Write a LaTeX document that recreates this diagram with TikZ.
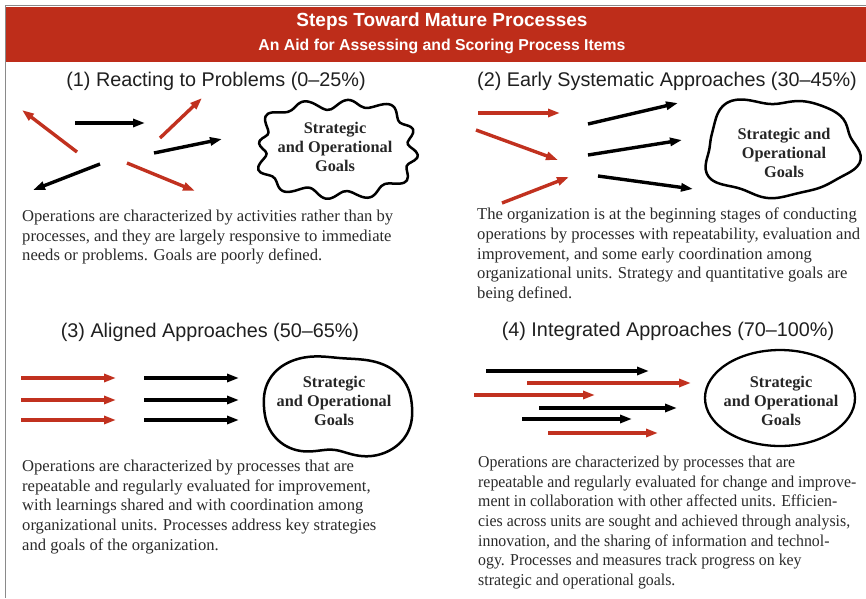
\documentclass[tikz,border=0pt]{standalone}
\usepackage{fontspec}
\setmainfont{Liberation Serif}
\setsansfont{Liberation Sans}
\newfontfamily\narrowserif[FakeStretch=0.955]{Liberation Serif}
\usetikzlibrary{arrows.meta}
\definecolor{bandred}{HTML}{BE2D1A}
\definecolor{arrred}{HTML}{C1311F}
\definecolor{bodygrey}{HTML}{2A2A2A}
\definecolor{rulegrey}{HTML}{8A8A8A}
\tikzset{
 arr/.style={line width=3.4pt, -{Triangle[length=12pt,width=8pt]}},
 redarr/.style={arr, draw=arrred, fill=arrred},
 blkarr/.style={arr, draw=black, fill=black},
 heading/.style={font=\sffamily\fontsize{19.8}{22}\selectfont, text=black!88, inner sep=0pt},
 body/.style={anchor=north west, align=left, inner sep=0pt, font=\fontsize{16.6}{19.6}\selectfont, text=bodygrey},
 goal/.style={align=center, inner sep=0pt, font=\bfseries\fontsize{16.3}{19}\selectfont, text=black!85},
 outline/.style={line width=2.5pt, line join=round, draw=black},
}
\begin{document}
\begin{tikzpicture}[x=1pt,y=-1pt]
\useasboundingbox (0,0) rectangle (866,598);
% frame and band
\fill[bandred] (5,7) rectangle (866,62);
\draw[rulegrey, line width=1.2pt] (866,5.5) -- (5.5,5.5) -- (5.5,598);
\node[font=\sffamily\bfseries\fontsize{19}{22}\selectfont, text=white] (title) at (442,22) {Steps Toward Mature Processes};
\node[font=\sffamily\bfseries\fontsize{15.8}{18}\selectfont, text=white] (subtitle) at (442,46) {An Aid for Assessing and Scoring Process Items};

% headings
\node[heading] (h1) at (216,81) {(1) Reacting to Problems (0--25\%)};
\node[heading] (h2) at (667,81) {(2) Early Systematic Approaches (30--45\%)};
\node[heading] (h3) at (210,332) {(3) Aligned Approaches (50--65\%)};
\node[heading] (h4) at (668,331) {(4) Integrated Approaches (70--100\%)};

% ---------- panel 1 ----------
\draw[redarr] (77,152) -- (22,110);
\draw[blkarr] (75,123) -- (145,123);
\draw[redarr] (160,138) -- (202,98);
\draw[blkarr] (154,153) -- (222,139);
\draw[blkarr] (100,164) -- (33,190);
\draw[redarr] (127,163) -- (195,191);
\draw[outline] plot[smooth cycle, samples=110, domain=0:356.7]
 ({337 + (75*pow(pow(abs(cos(\x)),3)+pow(abs(sin(\x)),3),-1/3) + 4.5*sin(12*\x) + 1.5*sin(5*\x+40))*cos(\x)},
  {149 + (45*pow(pow(abs(cos(\x)),3)+pow(abs(sin(\x)),3),-1/3) + 4.5*sin(12*\x) + 1.5*sin(5*\x+40))*sin(\x)});
\node[goal] (g1) at (335,147) {Strategic\\and Operational\\Goals};
\node[body] (t1) at (22,210) {Operations are characterized by activities rather than by\\processes, and they are largely responsive to immediate\\needs or problems. Goals are poorly defined.};

% ---------- panel 2 ----------
\draw[redarr] (478,113) -- (560,113);
\draw[redarr] (476,130) -- (558,160);
\draw[redarr] (502,203) -- (569,177);
\draw[blkarr] (588,124) -- (678,103);
\draw[blkarr] (588,155) -- (682,140);
\draw[blkarr] (598,176) -- (693,189);
\draw[outline] plot[smooth cycle, samples=90, domain=0:356]
 ({780 + (74*pow(pow(abs(cos(\x)),2.6)+pow(abs(sin(\x)),2.6),-1/2.6) + 3.5*sin(5*\x+20) + 2.5*sin(3*\x+70) + 1.5*sin(8*\x))*cos(\x)},
  {148 + (47*pow(pow(abs(cos(\x)),2.6)+pow(abs(sin(\x)),2.6),-1/2.6) + 3.5*sin(5*\x+20) + 2.5*sin(3*\x+70) + 1.5*sin(8*\x))*sin(\x)});
\node[goal] (g2) at (784,153) {Strategic and\\Operational\\Goals};
\node[body] (t2) at (477,208) {The organization is at the beginning stages of conducting\\operations by processes with repeatability, evaluation and\\improvement, and some early coordination among\\organizational units. Strategy and quantitative goals are\\being defined.};

% ---------- panel 3 ----------
\foreach \yy [count=\i] in {378,400,420}{
  \draw[redarr] (21,\yy) -- (116,\yy);
  \draw[blkarr] (144,\yy) -- (239,\yy);
}
\draw[outline] plot[smooth cycle, samples=90, domain=0:356]
 ({338 + (73*pow(pow(abs(cos(\x)),2.4)+pow(abs(sin(\x)),2.4),-1/2.4) - 9*exp(-((\x-95)/22)^2) - 3*exp(-((\x-275)/25)^2) + 2*sin(2*\x+30))*cos(\x)},
  {407 + (53*pow(pow(abs(cos(\x)),2.4)+pow(abs(sin(\x)),2.4),-1/2.4) - 9*exp(-((\x-95)/22)^2) - 3*exp(-((\x-275)/25)^2) + 2*sin(2*\x+30))*sin(\x)});
\node[goal] (g3) at (334,401) {Strategic\\and Operational\\Goals};
\node[body] (t3) at (22,460) {Operations are characterized by processes that are\\repeatable and regularly evaluated for improvement,\\with learnings shared and with coordination among\\organizational units. Processes address key strategies\\and goals of the organization.};

% ---------- panel 4 ----------
\draw[blkarr] (486,371) -- (649,371);
\draw[redarr] (527,383) -- (691,383);
\draw[redarr] (474,395) -- (595,395);
\draw[blkarr] (539,408) -- (677,408);
\draw[blkarr] (522,419) -- (632,419);
\draw[redarr] (548,433) -- (658,433);
\draw[line width=2.3pt] (780,398) ellipse [x radius=75pt, y radius=48pt];
\node[goal] (g4) at (781,401) {Strategic\\and Operational\\Goals};
\node[body, font=\narrowserif\fontsize{16.6}{19.6}\selectfont] (t4) at (478,456) {Operations are characterized by processes that are\\repeatable and regularly evaluated for change and improve-\\ment in collaboration with other affected units. Efficien-\\cies across units are sought and achieved through analysis,\\innovation, and the sharing of information and technol-\\ogy. Processes and measures track progress on key\\strategic and operational goals.};
\end{tikzpicture}
\end{document}
